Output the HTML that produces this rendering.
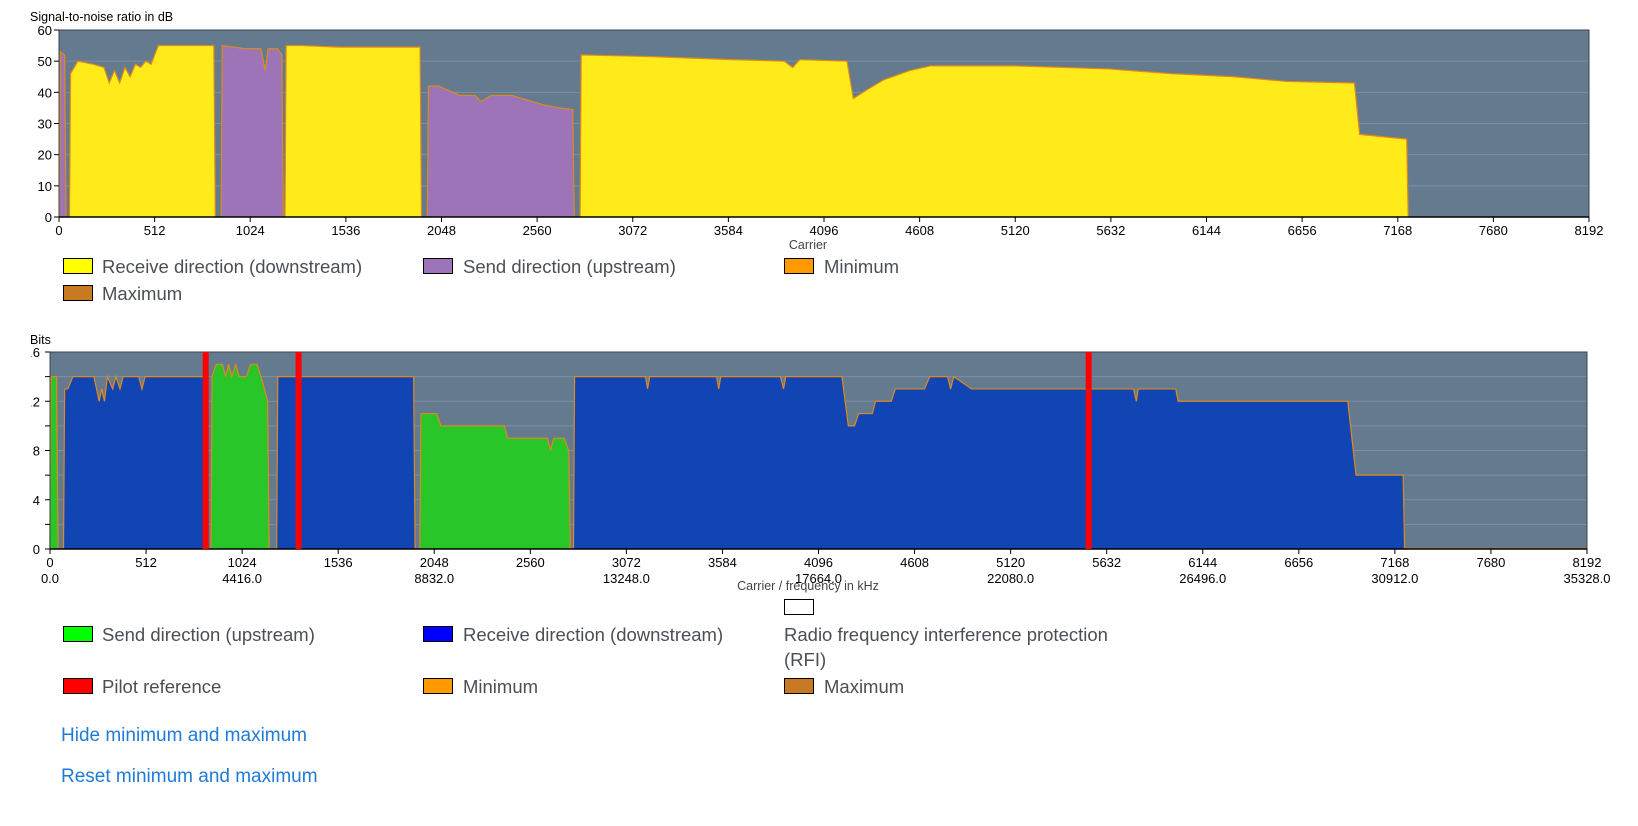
<!DOCTYPE html>
<html><head><meta charset="utf-8">
<style>
body{margin:0;width:1638px;height:826px;background:#fff;overflow:hidden;font-family:"Liberation Sans",sans-serif;position:relative}
.lg{position:absolute;font-size:18.5px;color:#4a4f55;line-height:25px}
.sw{position:absolute;width:28px;height:14px;border:1px solid #000}
.lk{position:absolute;font-size:19px;color:#1f7bd6;cursor:pointer}
svg text{font-family:"Liberation Sans",sans-serif}
</style></head><body>
<svg id="c" width="1638" height="826" style="position:absolute;left:0;top:0">
<defs><clipPath id="lc"><rect x="0" y="0" width="1700" height="826"/></clipPath><clipPath id="lc2"><rect x="31.5" y="0" width="1700" height="826"/></clipPath></defs>
<text x="30" y="21" font-size="12.5" fill="#000">Signal-to-noise ratio in dB</text>
<text x="30" y="344" font-size="12.5" fill="#000">Bits</text>
<text x="808" y="249" font-size="12.5" fill="#444" text-anchor="middle">Carrier</text>
<text x="808" y="590" font-size="12.5" fill="#444" text-anchor="middle">Carrier / frequency in kHz</text>
<g id="g1"></g><g id="g2"></g>
</svg>

<div class="sw" style="left:63px;top:258px;background:#ffff00"></div><div class="lg" style="left:102px;top:254px">Receive direction (downstream)</div>
<div class="sw" style="left:423px;top:258px;background:#9d74b8"></div><div class="lg" style="left:463px;top:254px">Send direction (upstream)</div>
<div class="sw" style="left:784px;top:258px;background:#ff9900"></div><div class="lg" style="left:824px;top:254px">Minimum</div>
<div class="sw" style="left:63px;top:285px;background:#c87a22"></div><div class="lg" style="left:102px;top:281px">Maximum</div>

<div class="sw" style="left:784px;top:599px;background:#fff"></div>
<div class="sw" style="left:63px;top:626px;background:#00ff00"></div><div class="lg" style="left:102px;top:622px">Send direction (upstream)</div>
<div class="sw" style="left:423px;top:626px;background:#0000ff"></div><div class="lg" style="left:463px;top:622px">Receive direction (downstream)</div>
<div class="lg" style="left:784px;top:622px;line-height:25px">Radio frequency interference protection<br>(RFI)</div>
<div class="sw" style="left:63px;top:678px;background:#ff0000"></div><div class="lg" style="left:102px;top:674px">Pilot reference</div>
<div class="sw" style="left:423px;top:678px;background:#ff9900"></div><div class="lg" style="left:463px;top:674px">Minimum</div>
<div class="sw" style="left:784px;top:678px;background:#c87a22"></div><div class="lg" style="left:824px;top:674px">Maximum</div>

<div class="lk" style="left:61px;top:725px">Hide minimum and maximum</div>
<div class="lk" style="left:61px;top:766px">Reset minimum and maximum</div>

<script>
// SNR chart data (carrier, dB)
const snrDsC=[[62,101,185,241,269,297,325,353,381,409,437,465,493,532,829],[1216,1300,1500,1700,1933],[2796,3154,3603,3883,3928,3967,4219,4253,4331,4415,4555,4667,5116,5620,5956,6292,6572,6936,6964,7216]];
const snrDsV=[[46,50,49,48,43,47,43,48,45,49,48,50,49,55,55],[55,55,54.5,54.5,54.5],[52,51.5,50.5,50,48,50.5,50,38,41,44,47,48.5,48.5,47.5,46,45,43.5,43,26.5,25]];
const snrUsC=[[8,30],[874,1000,1081,1104,1120,1170,1193],[1978,2034,2146,2230,2258,2314,2426,2594,2678,2751]];
const snrUsV=[[53,52],[55,54,54,47,54,54,52],[42,42,39,39,37,39,39,36,35,34.5]];
const snrTicksY=[0,10,20,30,40,50,60];
const carrierTicks=[0,512,1024,1536,2048,2560,3072,3584,4096,4608,5120,5632,6144,6656,7168,7680,8192];
// Bits chart data
const bitDsC=[[78,95,122,234,262,276,290,306,334,351,373,390,473,490,507,819],[1214,1500,1938],[2796,3174,3185,3196,3553,3564,3575,3893,3910,3921,4221,4255,4288,4310,4383,4400,4484,4505,4661,4689,4784,4800,4817,4912,5775,5790,5800,6000,6013,6917,6961,7212]];
const bitDsV=[[13,13,14,14,12,13,12,14,13,14,13,14,14,13,14,14],[14,14,14],[14,14,13,14,14,13,14,14,13,14,14,10,10,11,11,12,12,13,13,14,14,13,14,13,13,12,13,13,12,12,6,6]];
const bitUsC=[[5,35],[864,885,919,936,952,969,991,1008,1047,1069,1103,1125,1160],[1977,2061,2083,2422,2439,2651,2668,2684,2740,2765]];
const bitUsV=[[14,14],[14,15,15,14,15,14,15,14,14,15,15,14,12],[11,11,10,10,9,9,8,9,9,8]];
const pilotC=[830,1325,5536];
const bitTicksY=[0,4,8,12,16];
const freqTicks=[0,1024,2048,3072,4096,5120,6144,7168,8192];
const freqLabels=["0.0","4416.0","8832.0","13248.0","17664.0","22080.0","26496.0","30912.0","35328.0"];

const NS="http://www.w3.org/2000/svg";
function mk(p,t,a){const e=document.createElementNS(NS,t);for(const k in a)e.setAttribute(k,a[k]);p.appendChild(e);return e;}
function chart(g,L,R,T,B,ymax,dsC,dsV,usC,usV,dsCol,usCol,yt,ytLab,gridStep,tail,clip,lblOff){
  const X=c=>L+c/8192*(R-L), Y=v=>B-v/ymax*(B-T);
  const bg=mk(g,'rect',{x:L,y:T,width:R-L,height:B-T,fill:'#647a8e'});
  
  for(let v=gridStep;v<ymax;v+=gridStep){const l=mk(g,'line',{x1:L,x2:R,y1:Y(v),y2:Y(v),stroke:'#7d8fa0','stroke-width':1});
    }
  function band(C,V,col,nm){
    let d='M'+X(C[0]-6)+','+B;
    for(let i=0;i<C.length;i++)d+=' L'+X(C[i])+','+Y(V[i]);
    d+=' L'+X(C[C.length-1]+8)+','+B+' Z';
    const p=mk(g,'path',{d:d,fill:col,stroke:'none'});
    
    let s='M'+X(C[0]-6)+','+B;
    for(let i=0;i<C.length;i++)s+=' L'+X(C[i])+','+Y(V[i]);
    s+=' L'+X(C[C.length-1]+8)+','+B;
    const l=mk(g,'path',{d:s,fill:'none',stroke:'#e0891c','stroke-width':1.2});
    
  }
  dsC.forEach((c,i)=>band(c,dsV[i],dsCol,'downstream-band-'+i));
  usC.forEach((c,i)=>band(c,usV[i],usCol,'upstream-band-'+i));
  if(tail){const l=mk(g,'line',{x1:X(7216),x2:R,y1:B-0.5,y2:B-0.5,stroke:'#e0891c','stroke-width':1.2});
    }
  const fr=mk(g,'rect',{x:L,y:T,width:R-L,height:B-T,fill:'none',stroke:'#3a4450','stroke-width':1});
  
  const ax=mk(g,'line',{x1:L,x2:R,y1:B,y2:B,stroke:'#000','stroke-width':1.5});
  
  const lg=mk(g,'g',{'clip-path':'url(#'+clip+')'});
  yt.forEach((v,i)=>{const t=mk(lg,'text',{x:L-lblOff,y:Y(v)+5,'font-size':13,'text-anchor':'end',fill:'#000'});t.textContent=ytLab[i];
    
    const k=mk(g,'line',{x1:L-5,x2:L,y1:Y(v),y2:Y(v),stroke:'#000'});});
  carrierTicks.forEach(c=>{const k=mk(g,'line',{x1:X(c),x2:X(c),y1:B,y2:B+5,stroke:'#000'});
    const t=mk(g,'text',{x:X(c),y:B+18,'font-size':13,'text-anchor':'middle',fill:'#000'});t.textContent=c;
    });
  return {X,Y};
}
const g1=document.getElementById('g1'),g2=document.getElementById('g2');
chart(g1,59,1589,30,217,60,snrDsC,snrDsV,snrUsC,snrUsV,'#ffea1a','#9d74b8',snrTicksY,snrTicksY.map(String),10,false,'lc',7);
const a2=chart(g2,50,1587,352,549,16,bitDsC,bitDsV,bitUsC,bitUsV,'#1245b4','#28c628',bitTicksY,bitTicksY.map(String),2,true,'lc2',10);
for(let v=2;v<16;v+=4){const k=mk(g2,'line',{x1:45,x2:50,y1:a2.Y(v),y2:a2.Y(v),stroke:'#000'});
  }
pilotC.forEach(c=>{const r=mk(g2,'rect',{x:a2.X(c)-3,y:352,width:6,height:197,fill:'#ff0000'});
  });
freqTicks.forEach((c,i)=>{const t=mk(g2,'text',{x:a2.X(c),y:583,'font-size':13,'text-anchor':'middle',fill:'#000'});t.textContent=freqLabels[i];
  });
</script>
</body></html>
